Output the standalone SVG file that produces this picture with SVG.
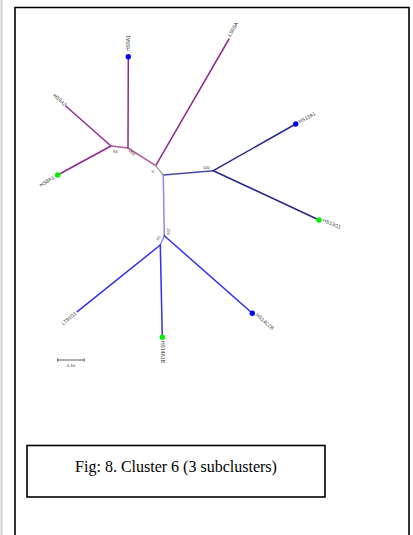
<svg xmlns="http://www.w3.org/2000/svg" width="413" height="535" viewBox="0 0 413 535">
<style>
.br{fill:none;stroke-width:1.5;stroke-linecap:round}
.pu{stroke:#8e2a8e}
.pi{stroke:#b05a9a}
.gr{stroke:#a8a8a8}
.mb{stroke:#4848a8}
.nv{stroke:#25258a}
.lb{stroke:#8a8af0}
.bl{stroke:#3030ee}
.lab{font-family:"Liberation Sans",Arial,sans-serif;font-size:5px;fill:#333}
.bs{font-family:"Liberation Sans",Arial,sans-serif;font-size:4px;fill:#333}
.dot-b{fill:#0000ff}
.dot-g{fill:#00ee00}
</style>
<rect x="0" y="0" width="413" height="535" fill="#fff"/>
<line x1="1.5" y1="0" x2="1.5" y2="535" stroke="#d4d4d4" stroke-width="2"/>
<path d="M15,535 V7.5 H409 V535" fill="none" stroke="#000" stroke-width="1.6"/>
<g id="connectors">
<polyline class="br pu" points="111,146 65.7,106"/>
<polyline class="br pu" points="111,146 57.7,175"/>
<polyline class="br pi" points="111,146 128,148 155.7,165.7"/>
<polyline class="br pu" points="128,148 128.3,56.7"/>
<polyline class="br pu" points="155.7,165.7 229,39"/>
<polyline class="br gr" points="155.7,165.7 163.3,175"/>
<polyline class="br mb" points="163.3,175 213.3,170.7"/>
<polyline class="br nv" points="213.3,170.7 295.7,124"/>
<polyline class="br nv" points="213.3,170.7 319,220"/>
<polyline class="br lb" points="163.3,175 164.3,235.7 160.3,245"/>
<polyline class="br bl" points="164.3,235.7 252.3,313.3"/>
<polyline class="br bl" points="160.3,245 77.3,311.7"/>
<polyline class="br bl" points="160.3,245 162.3,337.3"/>
</g>
<g id="HS9A1"><circle class="dot-b" cx="128.3" cy="56.7" r="2.7"/><text class="lab" transform="translate(130,51) rotate(-90)">HS9A1</text></g>
<g id="LS9SA"><text class="lab" transform="translate(230.5,37) rotate(-60)">LS9SA</text></g>
<g id="HS9A2"><text class="lab" text-anchor="end" transform="translate(64.5,106.5) rotate(42)">HS9A2</text></g>
<g id="HS8A1"><circle class="dot-g" cx="57.7" cy="175" r="2.7"/><text class="lab" text-anchor="end" transform="translate(54.5,178.5) rotate(-32)">HS8A1</text></g>
<g id="HS13A1"><circle class="dot-b" cx="295.7" cy="124" r="2.7"/><text class="lab" transform="translate(299.5,123.5) rotate(-28)">HS13A1</text></g>
<g id="HS13G1"><circle class="dot-g" cx="319" cy="220" r="2.7"/><text class="lab" transform="translate(322.3,221.5) rotate(23)">HS13G1</text></g>
<g id="LT91G1"><text class="lab" text-anchor="end" transform="translate(77,314) rotate(-40)">LT91G1</text></g>
<g id="HS14A1B"><circle class="dot-g" cx="162.3" cy="337.3" r="2.7"/><text class="lab" transform="translate(160.6,341) rotate(90)">HS14A1B</text></g>
<g id="HS14C2B"><circle class="dot-b" cx="252.3" cy="313.3" r="2.7"/><text class="lab" transform="translate(255.3,315.5) rotate(41)">HS14C2B</text></g>
<g id="bootstrap">
<text class="bs" x="113" y="152.5">94</text>
<text class="bs" transform="translate(128.5,151) rotate(45)">100</text>
<text class="bs" transform="translate(153.5,173) rotate(-60)">0</text>
<text class="bs" x="203" y="168.5">100</text>
<text class="bs" transform="translate(166.5,228) rotate(90)">100</text>
<text class="bs" transform="translate(158.5,240.5) rotate(-60)">51</text>
</g>
<g id="scale">
<path d="M57.7,360 H84.3 M57.7,358.5 V361.5 M84.3,358.5 V361.5" fill="none" stroke="#333" stroke-width="0.8"/>
<text class="bs" x="71" y="366.5" text-anchor="middle">0.10</text>
</g>
<g id="caption">
<rect x="27" y="445.5" width="298" height="51.5" fill="#fff" stroke="#000" stroke-width="1.6"/>
<text x="176" y="472" text-anchor="middle" font-family="'Liberation Serif','Times New Roman',serif" font-size="16" fill="#000">Fig: 8. Cluster 6 (3 subclusters)</text>
</g>
</svg>
